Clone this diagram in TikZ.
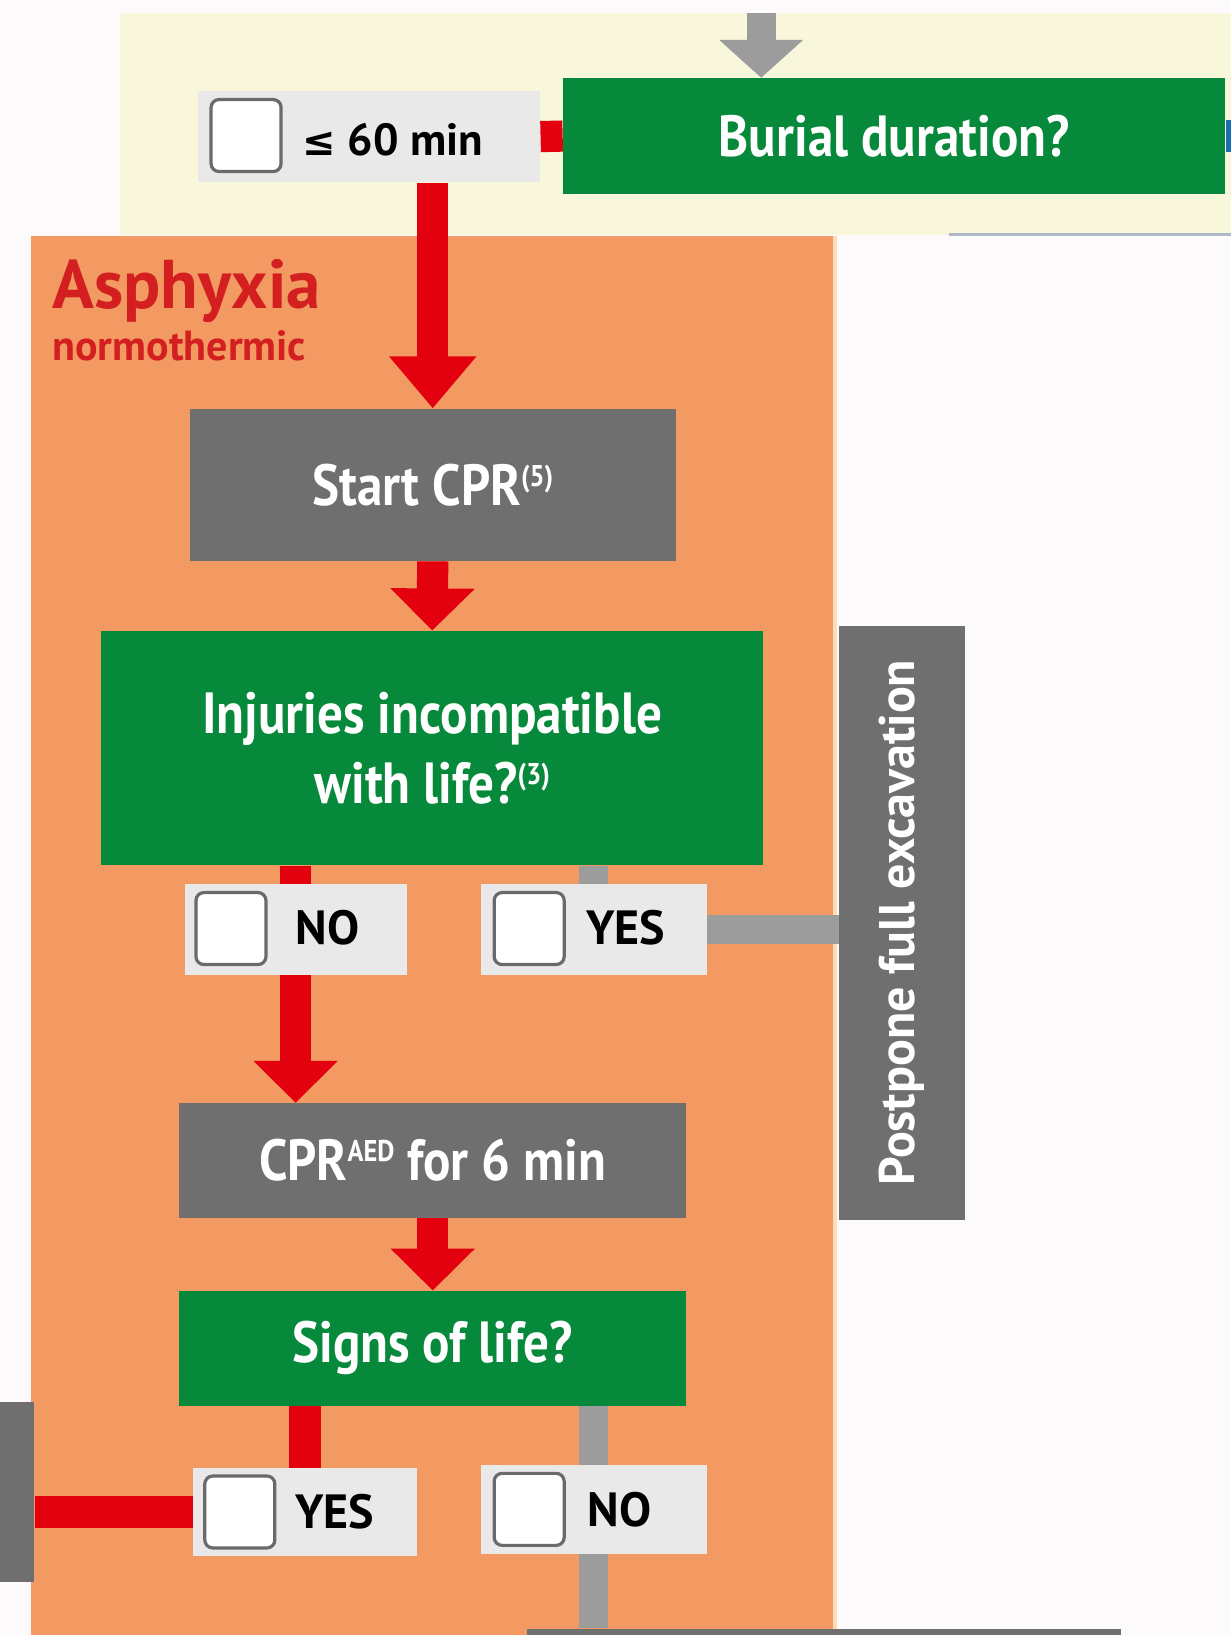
\documentclass[tikz,border=0pt]{standalone}
\usepackage{fontspec}
\setmainfont{PT Sans}
\newfontfamily\condfont[FakeStretch=0.88]{PT Sans}
\newfontfamily\symfont{DejaVu Sans}
\usetikzlibrary{arrows.meta,calc}

\definecolor{pagebg}{HTML}{FDFAFC}
\definecolor{zoneyellow}{HTML}{F8F6DB}
\definecolor{zoneorange}{HTML}{F29A62}
\definecolor{orangerim}{HTML}{FCDDB9}
\definecolor{edgeblue}{HTML}{AEB8C6}
\definecolor{qgreen}{HTML}{07893B}
\definecolor{agray}{HTML}{6F6F6F}
\definecolor{ansgray}{HTML}{E9E9E9}
\definecolor{chkgray}{HTML}{6A6A6A}
\definecolor{flowred}{HTML}{E3000F}
\definecolor{flowgray}{HTML}{9C9C9C}
\definecolor{titlered}{HTML}{D31F1F}
\definecolor{flowblue}{HTML}{1E6DB4}

\def\pu{0.5212pt}
\newcommand\supmark[1]{\raisebox{0.33em}{\fontsize{15}{15}\selectfont #1}}

\pgfdeclarelayer{panel}
\pgfdeclarelayer{wires}
\pgfsetlayers{panel,wires,main}

\tikzset{
  question/.style={fill=qgreen, text=white, inner sep=0pt, align=center,
    font=\condfont\bfseries\fontsize{29}{35}\selectfont},
  action/.style={fill=agray, text=white, inner sep=0pt, align=center,
    font=\condfont\bfseries\fontsize{29}{35}\selectfont},
  ansbox/.style={fill=ansgray, inner sep=0pt},
  chk/.style={fill=white, draw=chkgray, line width=1.6pt, rounded corners=4pt,
    minimum width=35pt, minimum height=36pt, inner sep=0pt},
  anstext/.style={anchor=west, inner sep=0pt, text=black,
    font=\bfseries\fontsize{24}{28}\selectfont},
  zonetitle/.style={inner sep=0pt, text=titlered, font=\bfseries\fontsize{34.5}{38}\selectfont},
  zonesub/.style={inner sep=0pt, text=titlered, font=\bfseries\fontsize{21}{24}\selectfont},
  redflow/.style={draw=flowred, line width=15.6pt},
  redarrow/.style={redflow, -{Triangle[width=41pt,length=21pt]}},
  bigredarrow/.style={redflow, -{Triangle[width=42pt,length=26pt]}},
  grayflow/.style={draw=flowgray, line width=14.6pt},
  grayarrow/.style={draw=flowgray, line width=14.6pt, -{Triangle[width=41pt,length=19pt]}},
  blueflow/.style={draw=flowblue, line width=15.6pt},
}

\begin{document}
\begin{tikzpicture}[x=0.5212pt,y=-0.5212pt]
\useasboundingbox (0,0) rectangle (1180,1568);

% zone panels
\begin{pgfonlayer}{panel}
  \fill[pagebg] (0,0) rectangle (1180,1568);
  \fill[zoneyellow] (115,12) rectangle (1195,225);
  \draw[edgeblue, line width=1.6pt] (910,225) -- (1195,225);
  \fill[zoneorange] (30,226) rectangle (800,1590);
  \draw[orangerim, line width=2pt] (801,226) -- (801,1590);
\end{pgfonlayer}

% zone heading
\node[zonetitle, anchor=base west] (asph) at (50,296) {Asphyxia};
\node[zonesub, anchor=base west] (normo) at (50,346) {normothermic};

% burial duration question and its answer
\coordinate (topin) at (730,12);
\node[question, minimum width=635*\pu, minimum height=111*\pu] (burial) at (857.5,130.5) {Burial duration?};
\node[ansbox, minimum width=328*\pu, minimum height=88*\pu] (le60) at (354,131) {};
\node[chk] (le60chk) at (236,130) {};
\node[anstext, font=\bfseries\fontsize{22.5}{26}\selectfont] (le60txt) at (290,134) {{\symfont\fontsize{20}{24}\selectfont ≤} 60 min};
\coordinate (offright) at (1200,134);

% main column
\node[action, minimum width=466*\pu, minimum height=146*\pu] (startcpr) at (415,465) {Start CPR\supmark{(5)}};
\node[question, minimum width=635*\pu, minimum height=225*\pu] (injuries) at (414.5,717.5)
  {Injuries incompatible\\with life?\supmark{(3)}};

\node[ansbox, minimum width=213*\pu, minimum height=87*\pu] (no1) at (283.5,891.5) {};
\node[chk] (no1chk) at (221.5,890.5) {};
\node[anstext] (no1txt) at (283,890) {NO};

\node[ansbox, minimum width=217*\pu, minimum height=87*\pu] (yes1) at (569.5,891.5) {};
\node[chk] (yes1chk) at (507.5,890.5) {};
\node[anstext] (yes1txt) at (562,890) {YES};

\node[fill=agray, text=white, inner sep=0pt, rotate=90,
  minimum width=570*\pu, minimum height=120*\pu,
  font=\bfseries\fontsize{25}{30}\selectfont] (postpone) at (865,885) {Postpone full excavation};

\node[action, minimum width=486*\pu, minimum height=110*\pu] (cpraed) at (415,1113) {CPR\supmark{AED} for 6 min};
\node[question, minimum width=486*\pu, minimum height=110*\pu] (signs) at (415,1293) {Signs of life?};

\node[ansbox, minimum width=215*\pu, minimum height=84*\pu] (yes2) at (292.5,1450) {};
\node[chk] (yes2chk) at (230,1450) {};
\node[anstext] (yes2txt) at (283,1450) {YES};

\node[ansbox, minimum width=217*\pu, minimum height=85*\pu] (no2) at (569.5,1447.5) {};
\node[chk] (no2chk) at (507.5,1447.5) {};
\node[anstext] (no2txt) at (563,1448) {NO};

% neighbouring steps, only partly in view
\node[fill=agray, inner sep=0pt, minimum width=93*\pu, minimum height=172*\pu] (leftstep) at (-13.5,1431) {};
\node[fill=agray, inner sep=0pt, minimum width=570*\pu, minimum height=78*\pu] (bottomstep) at (790,1601) {};

% connectors
\begin{pgfonlayer}{wires}
  \draw[grayarrow] (topin) -- (topin |- burial.north);
  \draw[redflow] (burial.west) -- (le60.east);
  \draw[blueflow] (burial.east) -- (burial.east -| offright);
  \draw[bigredarrow] (startcpr.north |- le60.south) -- (startcpr.north);
  \draw[redarrow] (startcpr.south) -- (injuries.north);
  \draw[redflow] (no1.north |- injuries.south) -- (no1.north);
  \draw[grayflow] (yes1.north |- injuries.south) -- (yes1.north);
  \draw[grayflow] (yes1.east) -- (yes1.east -| postpone.south);
  \draw[redarrow] (no1.south) -- (no1.south |- cpraed.north);
  \draw[redarrow] (cpraed.south) -- (signs.north);
  \draw[redflow] (yes2.north |- signs.south) -- (yes2.north);
  \draw[grayflow] (no2.north |- signs.south) -- (no2.north);
  \draw[grayflow] (no2.south) -- (no2.south |- bottomstep.north);
  \draw[redflow] (yes2.west) -- (yes2.west -| leftstep.east);
\end{pgfonlayer}
\end{tikzpicture}
\end{document}
